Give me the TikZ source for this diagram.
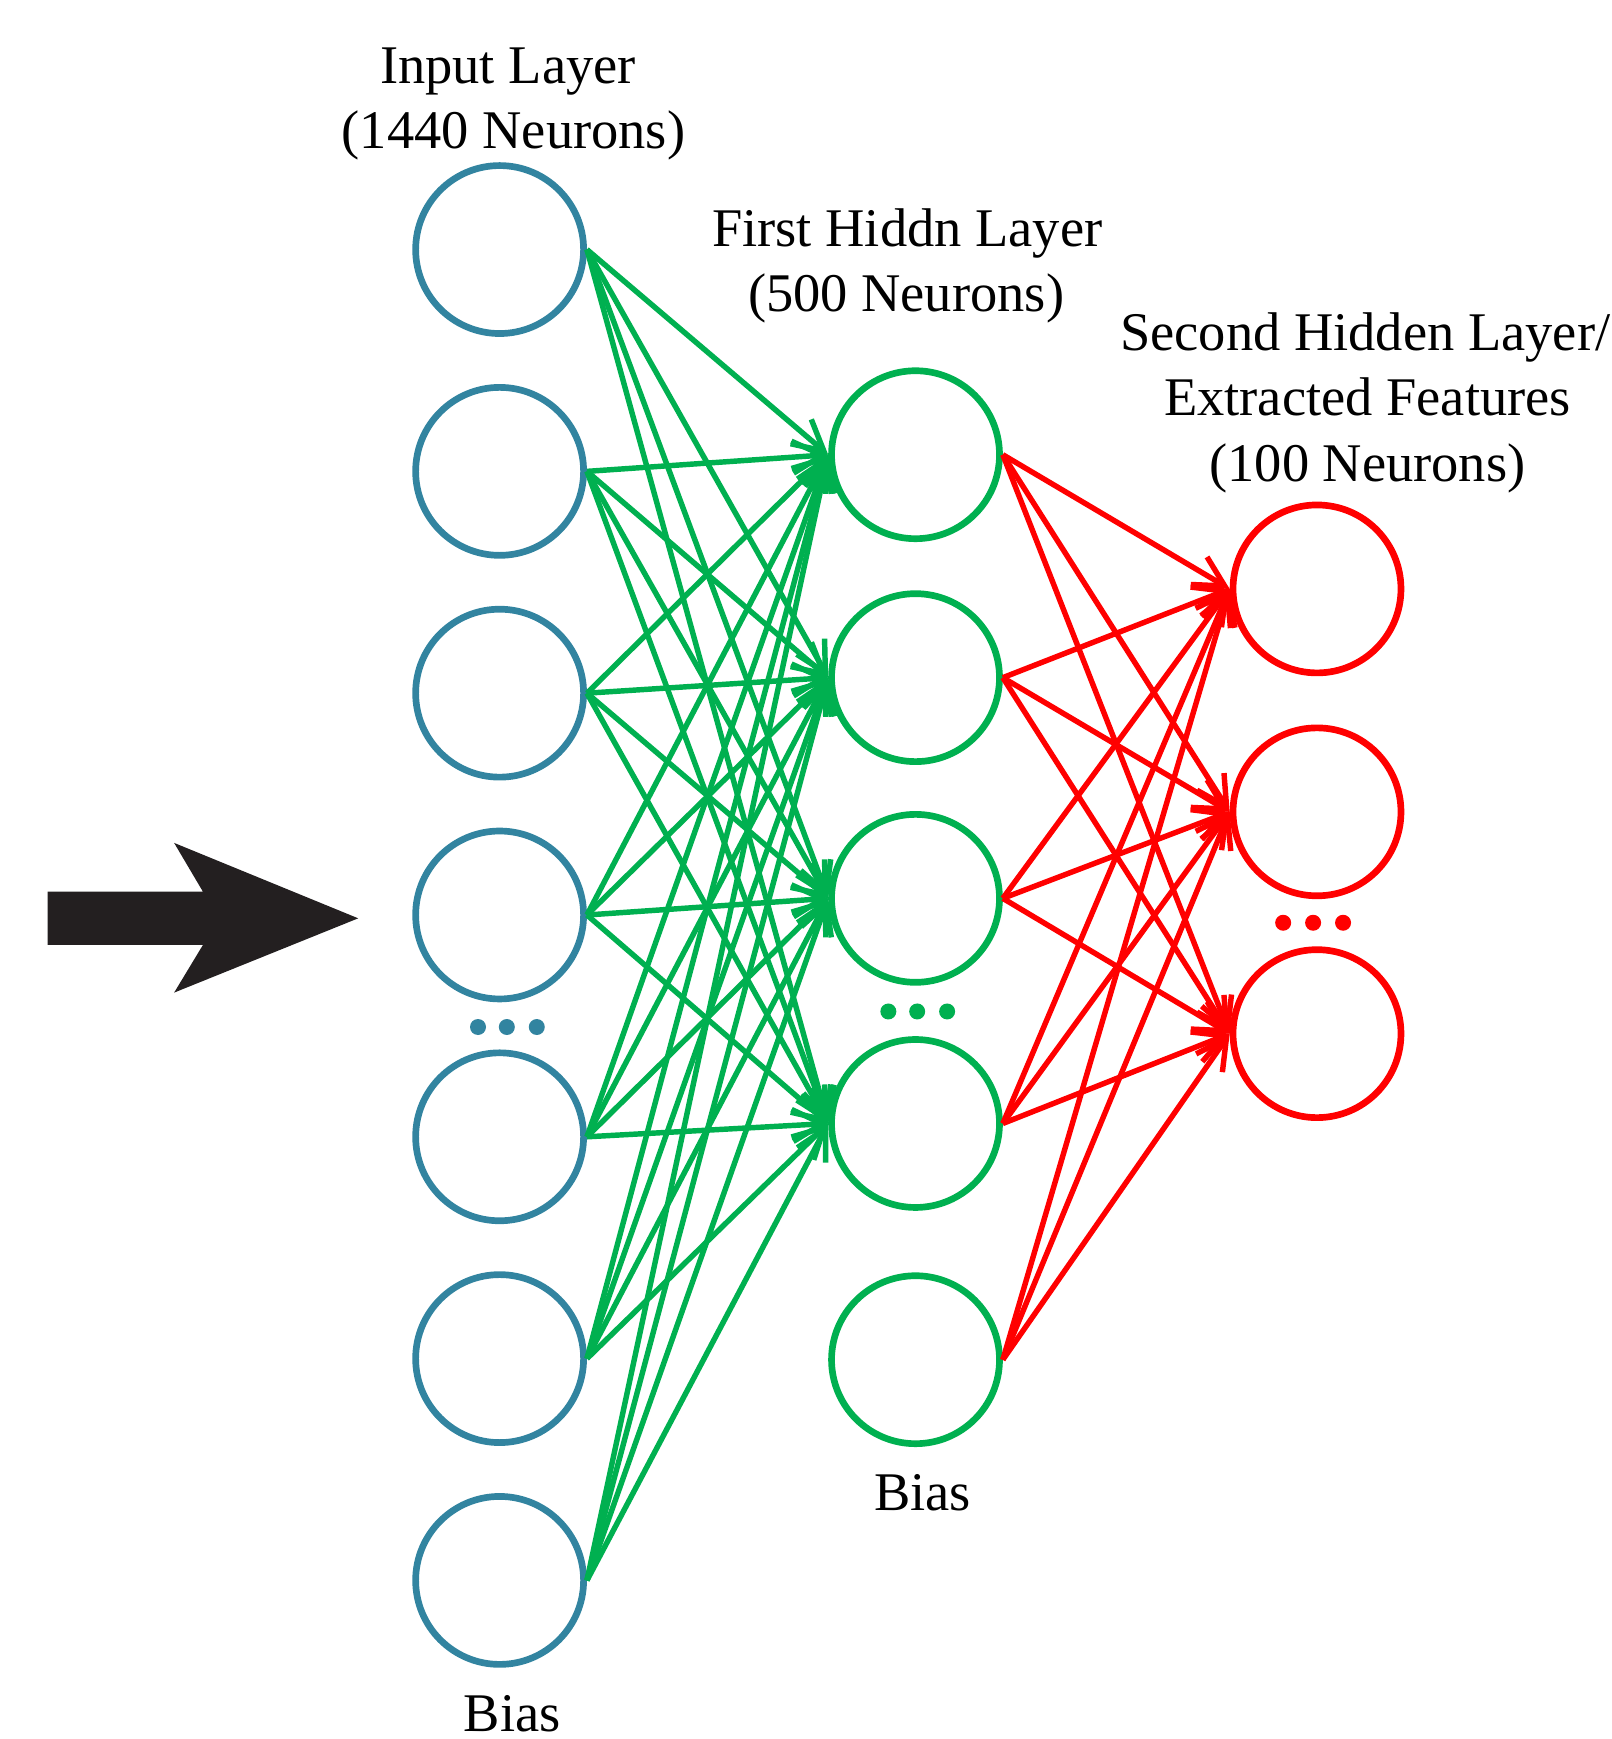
\documentclass[tikz,border=0pt]{standalone}
\usepackage{fontspec}
\setmainfont{Liberation Serif}
\usetikzlibrary{arrows.meta}
\definecolor{inblue}{RGB}{50,132,160}
\definecolor{hgreen}{RGB}{0,176,80}
\definecolor{ored}{RGB}{255,0,0}
\definecolor{arrowblack}{RGB}{35,31,32}
\begin{document}
\begin{tikzpicture}[x=0.011087cm,y=-0.011087cm,
  neuron/.style={circle,minimum size=1.68cm,inner sep=0pt,line width=1.9pt,fill=white},
  neuronin/.style={neuron,draw=inblue},
  neuronh/.style={neuron,draw=hgreen},
  neuronout/.style={neuron,draw=ored},
  conn/.style={line width=1.55pt,-{Straight Barb[length=0.3cm,width=0.32cm,line width=1.55pt]}},
  gline/.style={conn,draw=hgreen},
  rline/.style={conn,draw=ored},
  lbl/.style={anchor=base,inner sep=0pt,font=\fontsize{15.5}{18.9}\selectfont},
  dot/.style={circle,inner sep=0pt,minimum size=0.16cm},
]
\useasboundingbox (0,0) rectangle (1453,1568);

% input arrow
\fill[arrowblack] (43,804) -- (183,804) -- (157,760) -- (323,828) -- (157,895) -- (183,852) -- (43,852) -- cycle;

% labels
\node[lbl] (t1a) at (458,75) {Input Layer};
\node[lbl] (t1b) at (463,134) {(1440 Neurons)};
\node[lbl] (t2a) at (818,222) {First Hiddn Layer};
\node[lbl] (t2b) at (817,281) {(500 Neurons)};
\node[lbl] (t3a) at (1231,316) {Second Hidden Layer/};
\node[lbl] (t3b) at (1233,375) {Extracted Features};
\node[lbl] (t3c) at (1233,434) {(100 Neurons)};
\node[lbl] (b2) at (832,1362) {Bias};
\node[lbl] (b1) at (462,1561) {Bias};

% input layer
\foreach \k/\y in {1/225,2/425,3/625,4/825,5/1025,6/1225,7/1425}
  \node[neuronin] (i\k) at (450.5,\y) {};
% first hidden layer
\foreach \k/\y in {1/410,2/611,3/810,4/1013,5/1226}
  \node[neuronh] (h\k) at (825.5,\y) {};
% second hidden layer
\foreach \k/\y in {1/531,2/732,3/932}
  \node[neuronout] (o\k) at (1187.5,\y) {};

% dots
\foreach \x [count=\n] in {431,457,484}
  \node[dot,fill=inblue] (di\n) at (\x,926) {};
\foreach \x [count=\n] in {801,827,854}
  \node[dot,fill=hgreen] (dh\n) at (\x,912) {};
\foreach \x [count=\n] in {1157,1184,1211}
  \node[dot,fill=ored] (do\n) at (\x,832) {};

% connectors
\foreach \a in {1,...,7}
  \foreach \b in {1,...,4}
    \draw[gline] (i\a.east) -- (h\b.west);
\foreach \a in {1,...,5}
  \foreach \b in {1,...,3}
    \draw[rline] (h\a.east) -- (o\b.west);
\end{tikzpicture}
\end{document}
